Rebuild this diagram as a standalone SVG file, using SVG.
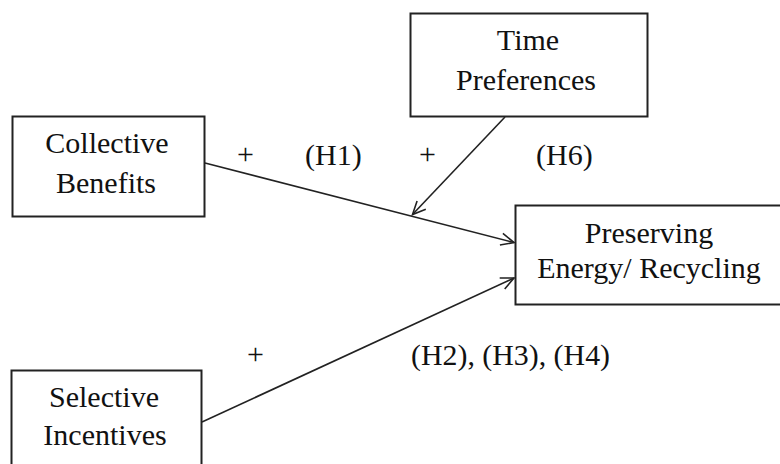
<svg xmlns="http://www.w3.org/2000/svg" width="780" height="464" viewBox="0 0 780 464">
<defs>
<style>
.box{fill:#fff;stroke:#222;stroke-width:2}
.t{font-family:"Liberation Serif","Times New Roman",serif;font-size:30px;fill:#111;text-anchor:middle}
.l{font-family:"Liberation Serif","Times New Roman",serif;font-size:30px;fill:#111}
.c{fill:none;stroke:#222;stroke-width:1.6}
</style>
<marker id="arr" markerUnits="userSpaceOnUse" markerWidth="20" markerHeight="20" refX="14" refY="7" orient="auto" viewBox="0 0 20 14">
<path d="M1,1 L14,7 L1,13" fill="none" stroke="#222" stroke-width="1.6"/>
</marker>
</defs>
<rect width="780" height="464" fill="#fff"/>
<g id="collective">
<rect class="box" x="12.5" y="116.5" width="192" height="100"/>
<text class="t" x="107" y="153">Collective</text>
<text class="t" x="106" y="193">Benefits</text>
</g>
<g id="time">
<rect class="box" x="410.5" y="13.5" width="237" height="103"/>
<text class="t" x="528" y="50">Time</text>
<text class="t" x="526" y="90">Preferences</text>
</g>
<g id="preserving">
<rect class="box" x="515.5" y="205.5" width="266" height="99"/>
<text class="t" x="649" y="243">Preserving</text>
<text class="t" x="649" y="278">Energy/ Recycling</text>
</g>
<g id="selective">
<rect class="box" x="11.5" y="370.5" width="190" height="100"/>
<text class="t" x="104" y="407">Selective</text>
<text class="t" x="105" y="445">Incentives</text>
</g>
<g id="connectors">
<line class="c" x1="205" y1="163" x2="514" y2="242.5" marker-end="url(#arr)"/>
<line class="c" x1="505" y1="117" x2="412.5" y2="214.5" marker-end="url(#arr)"/>
<line class="c" x1="202" y1="422" x2="514" y2="278" marker-end="url(#arr)"/>
</g>
<g id="labels">
<text class="l" x="237" y="164">+</text>
<text class="l" x="305" y="165">(H1)</text>
<text class="l" x="419" y="164">+</text>
<text class="l" x="536" y="165">(H6)</text>
<text class="l" x="247" y="364">+</text>
<text class="l" x="411" y="365" textLength="199" lengthAdjust="spacingAndGlyphs">(H2), (H3), (H4)</text>
</g>
</svg>
